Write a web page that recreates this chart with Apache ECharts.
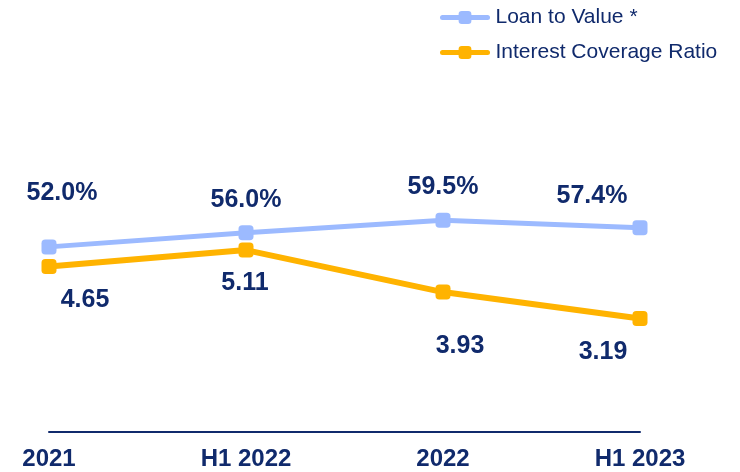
<!DOCTYPE html>
<html>
<head>
<meta charset="utf-8">
<script src="https://cdn.jsdelivr.net/npm/echarts@6/dist/echarts.min.js"></script>
<style>
  html, body { margin: 0; padding: 0; background: #fff; }
  #main { width: 740px; height: 472px; }
</style>
</head>
<body>
<div id="main"></div>
<script>
// chart data
var periods = ['2021', 'H1 2022', '2022', 'H1 2023'];
var loanToValue = [52.0, 56.0, 59.5, 57.4];
var interestCover = [4.65, 5.11, 3.93, 3.19];

// label placement (pixel nudges, not data)
var ltvOffsets = [[13, -54], [0, -33], [0, -33], [-48, -32]];
var icrOffsets = [[36, 34], [-1, 33], [17, 54], [-37, 34]];

var navy = '#102a6c';
var font = 'Arial, "Liberation Sans", sans-serif';

function points(values, offsets, fmt){
  return values.map(function(v, i){
    return {
      value: v,
      label: { offset: offsets[i], formatter: fmt(v) }
    };
  });
}

var myChart = echarts.init(document.getElementById('main'));
var labelStyle = {
  show: true,
  position: 'inside',
  color: navy,
  fontFamily: font,
  fontWeight: 'bold',
  fontSize: 25
};

var option = {
  animation: false,
  legend: {
    orient: 'vertical',
    left: 440,
    top: 7,
    padding: 0,
    itemWidth: 45,
    itemHeight: 16,
    itemGap: 14,
    lineStyle: { width: 5, cap: 'round' },
    textStyle: { color: navy, fontFamily: font, fontSize: 21, padding: [0, 0, 0, 3] },
    data: ['Loan to Value *', 'Interest Coverage Ratio']
  },
  grid: { left: 49, right: 100, top: 76, bottom: 40, containLabel: false, outerBoundsMode: 'none' },
  xAxis: {
    type: 'category',
    data: periods,
    boundaryGap: false,
    axisLine: { lineStyle: { color: navy, width: 2 } },
    axisTick: { show: false },
    axisLabel: { color: navy, fontFamily: font, fontWeight: 'bold', fontSize: 24, margin: 15 },
    splitLine: { show: false }
  },
  yAxis: [
    { type: 'value', min: 0, max: 100, show: false, splitLine: { show: false } },
    { type: 'value', min: 0, max: 10, show: false, splitLine: { show: false } }
  ],
  series: [
    {
      name: 'Loan to Value *',
      type: 'line',
      yAxisIndex: 0,
      symbol: 'roundRect',
      symbolSize: 15,
      color: '#9cbaff',
      lineStyle: { width: 5, color: '#9cbaff' },
      label: labelStyle,
      data: points(loanToValue, ltvOffsets, function(v){ return v.toFixed(1) + '%'; })
    },
    {
      name: 'Interest Coverage Ratio',
      type: 'line',
      yAxisIndex: 1,
      symbol: 'roundRect',
      symbolSize: 15,
      color: '#ffb300',
      lineStyle: { width: 6, color: '#ffb300' },
      label: labelStyle,
      data: points(interestCover, icrOffsets, function(v){ return v.toFixed(2); })
    }
  ]
};
myChart.setOption(option);
</script>
</body>
</html>
